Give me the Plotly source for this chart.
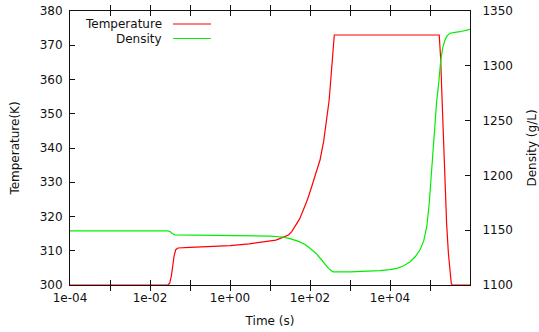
import plotly.graph_objects as go

# Temperature series (time in s, temperature in K)
temp_time = [1e-4, 0.028, 0.031, 0.034, 0.037, 0.040, 0.044, 0.05, 0.1, 0.3, 1, 3, 10, 14, 18,
             23, 29, 35, 42, 55, 68, 88, 110, 140, 178, 220, 261, 300, 331, 365, 405, 1.7e5,
             1.85e5, 1.95e5, 2.15e5, 2.37e5, 2.6e5, 2.88e5, 3.15e5, 3.4e5, 3.6e5, 1e6]
temp_vals = [300, 300, 300.5, 302.5, 305.5, 308.5, 310.3, 310.8, 311.0, 311.2, 311.5, 312.0,
             312.8, 313.1, 313.6, 314.0, 314.6, 315.6, 317.0, 319.3, 321.9, 325.2, 328.7,
             332.4, 336.5, 342.0, 348.2, 353.8, 360.0, 366.0, 373.0, 373.0, 366.0, 358.0,
             342.0, 328.7, 318.0, 309.3, 304.0, 300.5, 300, 300]

# Density series (time in s, density in g/L)
dens_time = [1e-4, 0.028, 0.032, 0.036, 0.042, 1, 10, 20, 30, 50, 75, 100, 140, 180, 230, 290,
             340, 380, 1000, 3000, 5.6e3, 1e4, 1.5e4, 2.2e4, 3.2e4, 4.3e4, 5.6e4, 7e4, 8.3e4,
             9.6e4, 1.1e5, 1.22e5, 1.33e5, 1.47e5, 1.62e5, 1.86e5, 2.1e5, 2.37e5, 2.7e5,
             3.16e5, 4.2e5, 5.6e5, 1e6]
dens_vals = [1149.3, 1149.3, 1148.6, 1147.0, 1145.8, 1145.4, 1144.6, 1143.8, 1142.6, 1140.0,
             1137.0, 1133.5, 1129.0, 1124.4, 1119.5, 1115.2, 1113.0, 1112.0, 1112.0, 1112.5,
             1113.1, 1114.0, 1115.2, 1117.6, 1121.3, 1126.0, 1131.9, 1140.5, 1153.2, 1175.0,
             1204.9, 1230.0, 1250.5, 1268.0, 1281.0, 1305.3, 1317.0, 1323.5, 1327.5, 1329.7,
             1330.5, 1331.1, 1333.3]

x_tickvals = [1e-4, 1e-3, 1e-2, 1e-1, 1e0, 1e1, 1e2, 1e3, 1e4, 1e5, 1e6]
x_ticktext = ["1e-04", "", "1e-02", "", "1e+00", "", "1e+02", "", "1e+04", "", ""]
y_ticks = [300, 310, 320, 330, 340, 350, 360, 370, 380]
y2_ticks = [1100, 1150, 1200, 1250, 1300, 1350]

FONT = "DejaVu Sans"
FS = 12
TXT = "#111"
fig = go.Figure()
fig.add_trace(go.Scatter(x=temp_time, y=temp_vals, mode="lines", name="Temperature",
                         line=dict(color="#ff0000", width=1.2), showlegend=False))
fig.add_trace(go.Scatter(x=dens_time, y=dens_vals, mode="lines", name="Density", yaxis="y2",
                         line=dict(color="#00ee00", width=1.2), showlegend=False))

axis_common = dict(showgrid=False, zeroline=False, showline=True, linecolor="#111",
                   linewidth=1, ticks="inside", ticklen=5, tickcolor="#111", automargin=False,
                   tickfont=dict(family=FONT, size=FS, color=TXT))

fig.update_layout(
    width=539, height=332,
    margin=dict(l=70, r=69, t=11, b=47),
    paper_bgcolor="white", plot_bgcolor="white",
    font=dict(family=FONT, size=FS, color=TXT),
    xaxis=dict(type="log", range=[-4, 6], tickvals=x_tickvals, ticktext=x_ticktext,
               mirror="allticks", ticklabelstandoff=2,
               title=dict(text="Time (s)", font=dict(family=FONT, size=FS, color=TXT), standoff=12),
               **axis_common),
    yaxis=dict(range=[300, 380], tickvals=y_ticks, mirror=True, ticklabelstandoff=4,
               title=dict(text="Temperature(K)", font=dict(family=FONT, size=FS, color=TXT),
                          standoff=17),
               **axis_common),
    yaxis2=dict(range=[1100, 1350], tickvals=y2_ticks, overlaying="y", side="right",
                ticklabelstandoff=9,
                title=dict(text="Density (g/L)", font=dict(family=FONT, size=FS, color=TXT),
                           standoff=16),
                **axis_common),
)

# gnuplot-style key: right-aligned labels, line samples to their right
legend_items = [("Temperature", "#ff0000", 0.9526), ("Density", "#00ee00", 0.8996)]
for label, color, yy in legend_items:
    fig.add_annotation(text=label, xref="paper", yref="paper", x=0.235, y=yy,
                       xanchor="right", yanchor="middle", showarrow=False,
                       font=dict(family=FONT, size=FS, color=TXT))
    fig.add_shape(type="line", xref="paper", yref="paper", x0=0.2575, x1=0.3525, y0=yy, y1=yy,
                  line=dict(color=color, width=1.2))

fig.write_html("out.html", config={"displayModeBar": False},
               post_script="document.body.style.margin='0';")
